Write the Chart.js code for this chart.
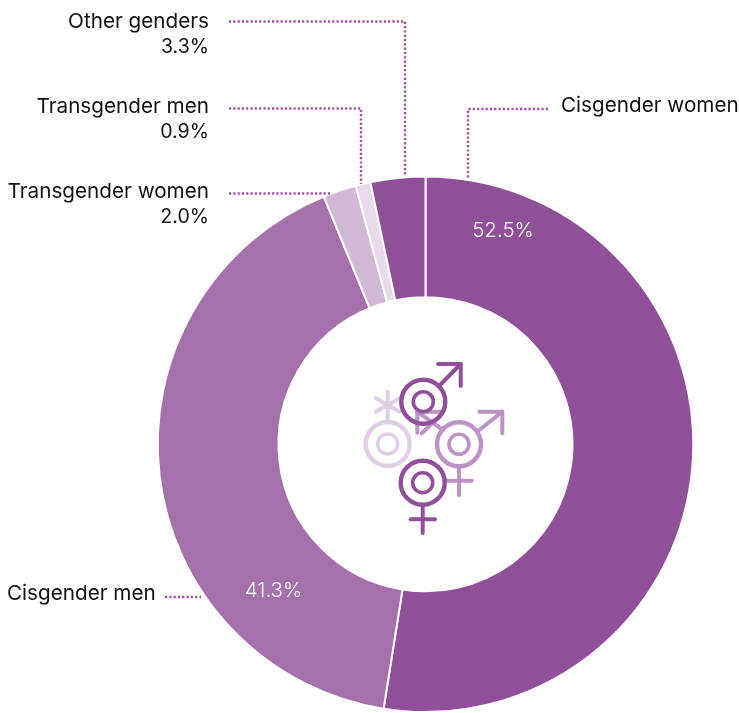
<!DOCTYPE html>
<html><head><meta charset="utf-8">
<style>html,body{margin:0;padding:0;background:#fff}#w{position:relative;width:739px;height:713px}</style>
<script src="https://cdn.jsdelivr.net/npm/chart.js@4"></script>
</head><body><div id="w"><canvas id="c" width="739" height="713"></canvas></div>
<script>
const categories = ['Cisgender women','Cisgender men','Transgender women','Transgender men','Other genders'];
const shares = [52.5,41.3,2.0,0.9,3.3];
const colours = ['#8F4F99','#A471AB','#D1B9D6','#E7DAEA','#8F4F99'];
const INK='#111111', DOT='#9A54A4', DARK='#8F4F99', MID='#BC93C4', LIGHT='#E0CFE4';
const FONT='Inter, Roboto, sans-serif';

const outer = [
 {lines:[categories[4],shares[4].toFixed(1)+'%'],x:209,y:[28,52.5],align:'right'},
 {lines:[categories[3],shares[3].toFixed(1)+'%'],x:209,y:[113,137.5],align:'right'},
 {lines:[categories[2],shares[2].toFixed(1)+'%'],x:209,y:[198,222.5],align:'right'},
 {lines:[categories[0]],x:561,y:[112],align:'left'},
 {lines:[categories[1]],x:7,y:[600],align:'left'}
];
const leaders = [
 [[229,21.5],[405,21.5],[405,176]],
 [[229,108.5],[361,108.5],[361,184]],
 [[229,193.5],[330,193.5]],
 [[548,109],[468,109],[468,178]],
 [[165,597],[201,597]]
];
const inner = [
 {text:shares[0].toFixed(1)+'%',x:503,y:237},
 {text:shares[1].toFixed(1)+'%',x:273.5,y:597}
];

function poly(ctx,pts,col,w){ctx.strokeStyle=col;ctx.lineWidth=w;ctx.beginPath();pts.forEach((p,i)=>i?ctx.lineTo(p[0],p[1]):ctx.moveTo(p[0],p[1]));ctx.stroke();}
function ring(ctx,x,y,col){
  ctx.strokeStyle=col;
  ctx.lineWidth=4.4;ctx.beginPath();ctx.arc(x,y,22,0,Math.PI*2);ctx.stroke();
  ctx.lineWidth=3.6;ctx.beginPath();ctx.arc(x,y,10,0,Math.PI*2);ctx.stroke();
}
function icon(ctx){
  ctx.save();ctx.lineCap='round';ctx.lineJoin='round';
  ring(ctx,387.7,444,LIGHT);
  poly(ctx,[[387.7,420],[387.7,391.5]],LIGHT,4);
  poly(ctx,[[376,398.3],[399.3,411.7]],LIGHT,4);
  poly(ctx,[[376,411.7],[399.3,398.3]],LIGHT,4);
  ring(ctx,459,444.3,MID);
  poly(ctx,[[478,431],[502.3,411.7]],MID,4);
  poly(ctx,[[479.3,411.7],[502.3,411.7],[502.3,433.3]],MID,4);
  poly(ctx,[[443,430],[417.3,411.7]],MID,4);
  poly(ctx,[[440,411.7],[417.3,411.7],[417.3,432.7]],MID,4);
  poly(ctx,[[421.7,433.3],[440,416]],MID,4);
  poly(ctx,[[459,467],[459,495]],MID,4);
  poly(ctx,[[446.7,480.7],[471.7,480.7]],MID,4);
  ring(ctx,423.3,401.7,DARK);
  poly(ctx,[[439,386],[460.7,364]],DARK,4);
  poly(ctx,[[438,364],[460.7,364],[460.7,386]],DARK,4);
  ring(ctx,422.7,482.7,DARK);
  poly(ctx,[[422.7,505],[422.7,533]],DARK,4);
  poly(ctx,[[410.7,519.3],[435,519.3]],DARK,4);
  ctx.restore();
}
const annotate={id:'annotate',afterDraw(ch){
  const ctx=ch.ctx;ctx.save();
  ctx.setLineDash([2.2,2.1]);ctx.lineCap='butt';ctx.lineJoin='miter';
  leaders.forEach(l=>poly(ctx,l,DOT,2.4));
  ctx.setLineDash([]);
  ctx.fillStyle=INK;ctx.textBaseline='alphabetic';
  outer.forEach(o=>{ctx.textAlign=o.align;o.lines.forEach((t,i)=>{
    ctx.font='400 '+(i?'19.6':'20.7')+'px '+FONT;ctx.fillText(t,o.x,o.y[i]);});});
  ctx.fillStyle='#FFFFFF';ctx.font='350 20.5px '+FONT;ctx.textAlign='center';
  inner.forEach(o=>ctx.fillText(o.text,o.x,o.y));
  ctx.restore();
  icon(ctx);
}};
new Chart(document.getElementById('c'),{
  type:'doughnut',
  data:{labels:categories,datasets:[{data:shares,backgroundColor:colours,borderColor:'#FFFFFF',borderWidth:2}]},
  options:{responsive:false,animation:false,cutout:'54.9%',
    layout:{padding:{left:156,right:44,top:175.5,bottom:-0.5}},
    plugins:{legend:{display:false},tooltip:{enabled:false}}},
  plugins:[annotate]
});
</script></body></html>
